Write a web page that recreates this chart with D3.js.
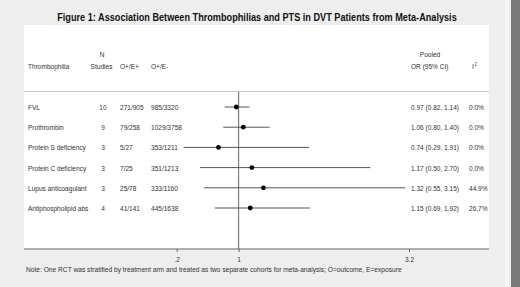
<!DOCTYPE html>
<html>
<head>
<meta charset="utf-8">
<script src="https://cdn.jsdelivr.net/npm/d3@7"></script>
<style>
  html, body { margin: 0; padding: 0; background: #eeeeee; }
  svg { display: block; }
  text { font-family: "Liberation Sans", Arial, sans-serif; fill: #333; }
</style>
</head>
<body>
<svg id="chart" width="520" height="287"></svg>
<script>
const categories = ["FVL", "Prothrombin", "Protein S deficiency", "Protein C deficiency", "Lupus anticoagulant", "Antiphospholipid abs"];
const nStudies = [10, 9, 3, 3, 3, 4];
const oeExposed = ["271/905", "79/258", "5/27", "7/25", "25/78", "41/141"];
const oeUnexposed = ["985/3320", "1029/3758", "353/1211", "351/1213", "333/1160", "445/1638"];
const orValues = [0.97, 1.06, 0.74, 1.17, 1.32, 1.15];
const ciLow = [0.82, 0.80, 0.29, 0.50, 0.55, 0.69];
const ciHigh = [1.14, 1.40, 1.91, 2.70, 3.15, 1.92];
const i2Values = ["0.0%", "0.0%", "0.0%", "0.0%", "44.9%", "26.7%"];
const tickValues = [0.2, 1, 3.2];
const tickLabels = [".2", "1", "3.2"];

const svg = d3.select("#chart");
const SX = 0.82;

function label(g, xPos, yPos, str, anchor, size, sx) {
  return g.append("text")
    .attr("transform", `translate(${xPos},${yPos}) scale(${sx || SX},1)`)
    .attr("text-anchor", anchor || "start")
    .attr("font-size", size || 8)
    .text(str);
}
function fitLabel(g, xPos, yPos, str, anchor, size, target) {
  const el = label(g, xPos, yPos, str, anchor, size, 1);
  const w = el.node().getComputedTextLength();
  el.attr("transform", `translate(${xPos},${yPos}) scale(${target / w},1)`);
  return el;
}

// panel
svg.append("rect").attr("x", 0).attr("y", 0).attr("width", 520).attr("height", 287).attr("fill", "#eeeeee");
svg.append("rect").attr("x", 24).attr("y", 25).attr("width", 465).attr("height", 224).attr("fill", "#ffffff");
svg.append("rect").attr("x", 505).attr("y", 0).attr("width", 4).attr("height", 287).attr("fill", "#f7f7f7");
svg.append("rect").attr("x", 511).attr("y", 0).attr("width", 9).attr("height", 287).attr("fill", "#7a7a7a");

// title
fitLabel(svg, 257, 20.5, "Figure 1: Association Between Thrombophilias and PTS in DVT Patients from Meta-Analysis",
  "middle", 11, 373).attr("font-weight", "bold").style("fill", "#111");

const x = d3.scaleLinear().domain([0.2, 3.2]).range([176.7, 409]);
const y = d3.scalePoint().domain(categories).range([107, 208]);

// headers
const hdr = svg.append("g");
label(hdr, 28, 69, "Thrombophilia");
label(hdr, 102, 57, "N", "middle");
label(hdr, 101.5, 69, "Studies", "middle");
label(hdr, 120, 69, "O+/E+");
label(hdr, 151, 69, "O+/E-");
label(hdr, 430, 57, "Pooled", "middle");
label(hdr, 411, 69, "OR (95% CI)");
label(hdr, 472, 69, "I");
label(hdr, 474.5, 65.5, "2", "start", 5);

svg.append("line").attr("x1", 24).attr("x2", 489).attr("y1", 91.5).attr("y2", 91.5)
  .attr("stroke", "#c8c8c8").attr("stroke-width", 1);

// reference line at 1
svg.append("line").attr("x1", x(1)).attr("x2", x(1)).attr("y1", 92).attr("y2", 249)
  .attr("stroke", "#666").attr("stroke-width", 1);

const rows = svg.append("g");
categories.forEach((c, i) => {
  const yy = y(c);
  label(rows, 28, yy + 3, c);
  label(rows, 103, yy + 3, String(nStudies[i]), "middle");
  label(rows, 120, yy + 3, oeExposed[i]);
  label(rows, 151, yy + 3, oeUnexposed[i]);
  label(rows, 411, yy + 3, `${orValues[i].toFixed(2)} (${ciLow[i].toFixed(2)}, ${ciHigh[i].toFixed(2)})`);
  label(rows, 469, yy + 3, i2Values[i]);
  svg.append("line").attr("x1", x(ciLow[i])).attr("x2", x(ciHigh[i])).attr("y1", yy).attr("y2", yy)
    .attr("stroke", "#555").attr("stroke-width", 1);
  svg.append("circle").attr("cx", x(orValues[i])).attr("cy", yy).attr("r", 2.4).attr("fill", "#000");
});

// axis
svg.append("line").attr("x1", 24).attr("x2", 489).attr("y1", 249).attr("y2", 249)
  .attr("stroke", "#666").attr("stroke-width", 1.2);
const axis = d3.axisBottom(x).tickValues(tickValues).tickSize(3)
  .tickFormat((d, i) => tickLabels[i]);
const ag = svg.append("g").attr("transform", "translate(0,249)").call(axis);
ag.select(".domain").remove();
ag.selectAll(".tick line").attr("stroke", "#666");
ag.selectAll(".tick text").attr("font-size", 8).attr("dy", "0.5em").attr("y", 0)
  .attr("transform", `translate(0,9) scale(${SX},1)`)
  .style("font-family", "'Liberation Sans', Arial, sans-serif").style("fill", "#333");

// note
fitLabel(svg, 26, 272, "Note: One RCT was stratified by treatment arm and treated as two separate cohorts for meta-analysis; O=outcome, E=exposure",
  "start", 8, 376);
</script>
</body>
</html>
